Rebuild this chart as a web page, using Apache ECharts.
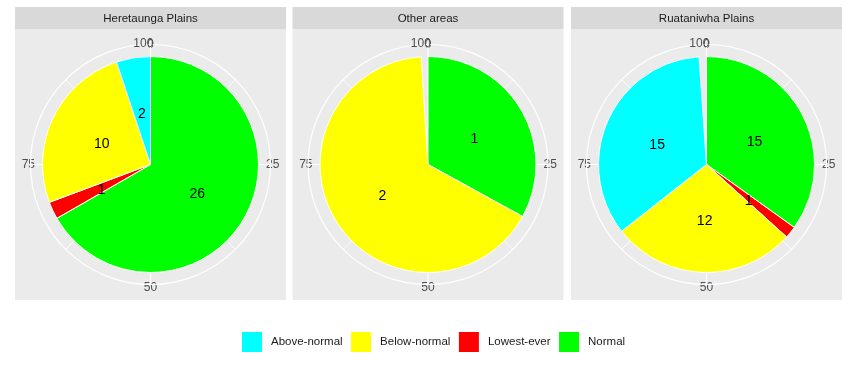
<!DOCTYPE html>
<html>
<head>
<meta charset="utf-8">
<script src="https://cdn.jsdelivr.net/npm/echarts@6/dist/echarts.min.js"></script>
<style>
  html, body { margin: 0; padding: 0; background: #ffffff; }
  #chart { width: 850px; height: 368px; }
</style>
</head>
<body>
<div id="chart"></div>
<script>
// ---- data ----
const panels = ['Heretaunga Plains', 'Other areas', 'Ruataniwha Plains'];
const legendCategories = ['Above-normal', 'Below-normal', 'Lowest-ever', 'Normal'];
const stackOrder = ['Normal', 'Lowest-ever', 'Below-normal', 'Above-normal'];
// counts shown as slice labels (null = category absent)
const countNormal = [26, 1, 15];
const countLowest = [1, null, 1];
const countBelow = [10, 2, 12];
const countAbove = [2, null, 15];
// slice sizes in percent (0-100)
const pctNormal = [66.7, 33.0, 34.9];
const pctLowest = [2.6, null, 1.8];
const pctBelow = [25.6, 66.0, 27.7];
const pctAbove = [5.1, null, 34.5];
const angleTicks = [0, 25, 50, 75];
const angleEndLabel = '100';

const colors = {
  'Above-normal': '#00FFFF',
  'Below-normal': '#FFFF00',
  'Lowest-ever': '#FF0000',
  'Normal': '#00FF00'
};
const counts = { 'Normal': countNormal, 'Lowest-ever': countLowest, 'Below-normal': countBelow, 'Above-normal': countAbove };
const pcts = { 'Normal': pctNormal, 'Lowest-ever': pctLowest, 'Below-normal': pctBelow, 'Above-normal': pctAbove };

// ---- layout ----
const FONT = '"Liberation Sans", Arial, sans-serif';
const panelX = [15, 292.5, 571];
const panelW = 271;
const stripTop = 7, stripH = 22, panelTop = 29, panelBottom = 300;
const cy = (panelTop + panelBottom) / 2;
const outerR = 120, pieR = 108;
const labelMargin = -4.5;

const chart = echarts.init(document.getElementById('chart'));

const polar = [], angleAxis = [], radiusAxis = [], series = [], graphic = [];

panels.forEach((name, i) => {
  const cx = panelX[i] + panelW / 2;
  graphic.push({ type: 'rect', z: -10, shape: { x: panelX[i], y: stripTop, width: panelW, height: stripH }, style: { fill: '#D9D9D9' } });
  graphic.push({ type: 'rect', z: -10, shape: { x: panelX[i], y: panelTop, width: panelW, height: panelBottom - panelTop }, style: { fill: '#EBEBEB' } });
  graphic.push({ type: 'text', z: 10, x: cx, y: stripTop + stripH / 2 + 0.5, style: { text: name, fill: '#1A1A1A', font: '11.5px ' + FONT, textAlign: 'center', textVerticalAlign: 'middle' } });
  // the "100" label sharing the top position with "0"
  graphic.push({ type: 'text', z: 10, x: cx + 2.8, y: cy - 121, style: { text: angleEndLabel, fill: '#4D4D4D', font: '12px ' + FONT, textAlign: 'right', textVerticalAlign: 'middle' } });
});

// grid polars (0..2)
panels.forEach((name, i) => {
  const cx = panelX[i] + panelW / 2;
  polar.push({ center: [cx, cy], radius: outerR });
  angleAxis.push({
    polarIndex: i, type: 'value', min: 0, max: 100, interval: 25,
    startAngle: 90, clockwise: true, z: 1,
    axisLine: { show: true, lineStyle: { color: '#FFFFFF', width: 1.2 } },
    axisTick: { show: false },
    axisLabel: { show: true, color: '#4D4D4D', fontSize: 12, fontFamily: FONT, margin: labelMargin,
      padding: [2, 0, -2, 0],
      customValues: angleTicks },
    splitLine: { show: true, lineStyle: { color: '#FFFFFF', width: 1.2 } },
    minorTick: { show: false, splitNumber: 2 },
    minorSplitLine: { show: true, lineStyle: { color: '#FFFFFF', width: 0.8 } }
  });
  radiusAxis.push({ polarIndex: i, type: 'value', min: 0, max: 1, show: false });
});

// pie polars (3..5)
panels.forEach((name, i) => {
  const cx = panelX[i] + panelW / 2;
  polar.push({ center: [cx, cy], radius: pieR });
  angleAxis.push({ polarIndex: i + 3, type: 'value', min: 0, max: 100, startAngle: 90, clockwise: true, show: false });
  radiusAxis.push({ polarIndex: i + 3, type: 'category', data: [''], show: false });
  stackOrder.forEach(cat => {
    const v = pcts[cat][i];
    const c = counts[cat][i];
    series.push({
      type: 'bar', coordinateSystem: 'polar', polarIndex: i + 3,
      name: cat, stack: 'panel' + i, barCategoryGap: '0%',
      itemStyle: { color: colors[cat], borderColor: '#FFFFFF', borderWidth: 1 },
      label: { show: true, position: 'middle', rotate: 0, offset: [0, 2.5], formatter: p => String(p.data.count),
        fontSize: 14, color: '#000000', fontFamily: FONT },
      emphasis: { disabled: true },
      data: v == null ? ['-'] : [{ value: v, count: c }]
    });
  });
});

chart.setOption({
  animation: false,
  textStyle: { fontFamily: FONT },
  polar, angleAxis, radiusAxis, series, graphic,
  legend: {
    data: legendCategories,
    left: 242, top: 332, padding: 0,
    itemWidth: 20, itemHeight: 20, itemGap: 8.5,
    icon: 'rect',
    itemStyle: { borderWidth: 0 },
    selectedMode: false,
    textStyle: { fontSize: 11.5, color: '#1A1A1A', fontFamily: FONT, padding: [0, 0, 0, 4] }
  }
});
</script>
</body>
</html>
